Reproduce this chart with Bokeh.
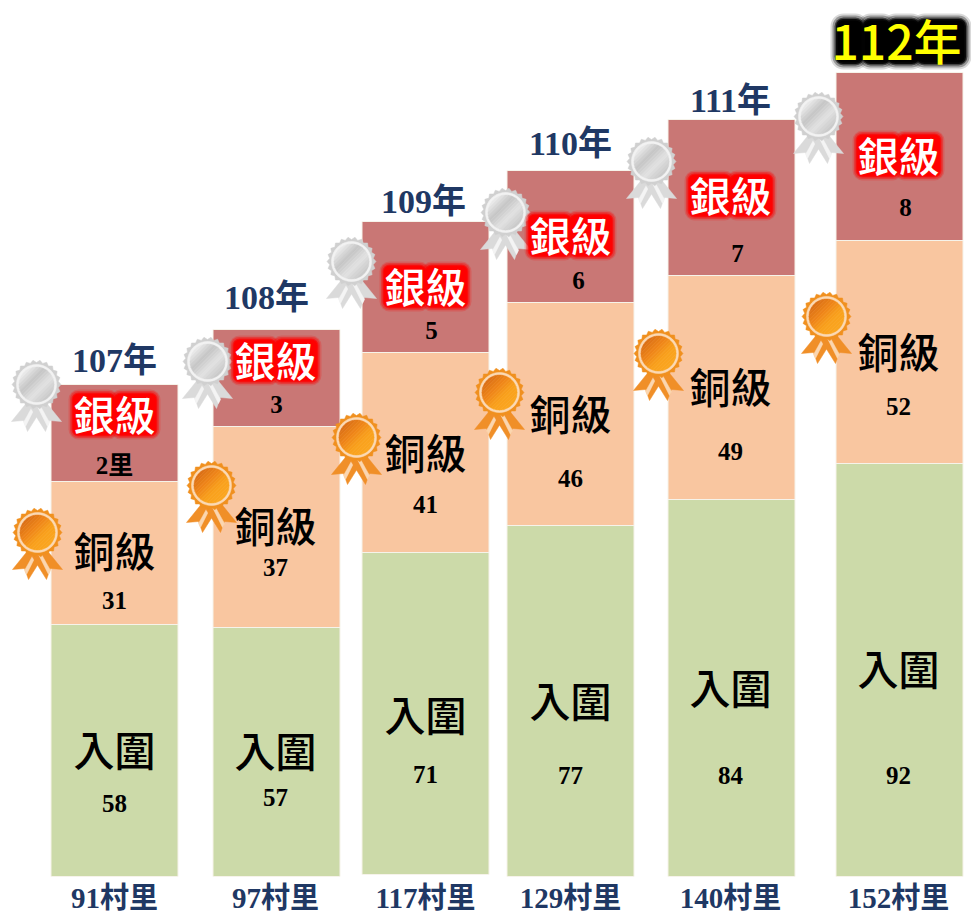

import numpy as np
from bokeh.plotting import figure
from bokeh.core.properties import value
from bokeh.models import ColumnDataSource, Range1d
from bokeh.embed import file_html
from bokeh.resources import INLINE

# ---- values printed on the chart
years = ["107年", "108年", "109年", "110年", "111年", "112年"]
totals = ["91村里", "97村里", "117村里", "129村里", "140村里", "152村里"]
silver_vals = ["2里", "3", "5", "6", "7", "8"]
bronze_vals = ["31", "37", "41", "46", "49", "52"]
entry_vals = ["58", "57", "71", "77", "84", "92"]
silver_name = "銀級"
bronze_name = "銅級"
entry_name = "入圍"

# ---- drawn segment heights (the original is not to scale)
entry_h = [252, 249, 322, 351, 377, 413]
bronze_h = [143, 201, 200, 223, 224, 223]
silver_h = [97, 97, 131, 132, 156, 168]

# ---- layout, in page pixels
BASE = 877
bar_left = [50.5, 212.5, 361.5, 506.5, 667.5, 835.5]
bar_w = 127
base_px = [877, 877, 875, 877, 877, 877]
cx_txt = [114, 275, 425, 570, 730, 898]
year_x = [114, 266, 423, 570, 730]
year_y = [361, 298, 202, 144, 101]
s_txt_y = [413, 359, 285, 234, 194, 154]
s_val_x = [114, 276, 431, 578, 737, 905]
s_val_y = [466, 405, 331, 281, 254, 208]
b_txt_y = [549, 524, 451, 412, 385, 350]
b_val_y = [601, 568, 505, 479, 452, 407]
e_txt_y = [748, 749, 713, 699, 686, 667]
e_val_y = [804, 798, 775, 776, 776, 776]
total_y = 898
silver_medal = [(36, 385), (207, 362), (351, 262), (505, 213), (651, 162), (818, 117)]
bronze_medal = [(37, 533), (211, 486), (356, 438), (499, 393), (658, 354), (826, 317)]

W, H = 971, 912
p = figure(width=W, height=H, output_backend="svg", toolbar_location=None,
           x_range=Range1d(0, W), y_range=Range1d(BASE - H - 1, BASE - 1),
           min_border=0)
p.axis.visible = False
p.grid.visible = False
p.outline_line_color = None
p.background_fill_color = "white"


def Y(v):
    return BASE - v


CJK = "Noto Sans CJK TC Medium, Noto Sans CJK TC"
SERIF = "Liberation Serif, Noto Sans CJK TC"

# ---- stacked bars
xc = [l + bar_w / 2 for l in bar_left]
b0 = [BASE - b for b in base_px]
b1 = [a + h for a, h in zip(b0, entry_h)]
b2 = [a + h for a, h in zip(b1, bronze_h)]
b3 = [a + h for a, h in zip(b2, silver_h)]
edge = "#F6F3EA"
p.vbar(x=xc, width=bar_w, bottom=b0, top=b1, fill_color="#CCDAA9", line_color=edge, line_width=1)
p.vbar(x=xc, width=bar_w, bottom=b1, top=b2, fill_color="#F9C6A0", line_color=edge, line_width=1)
p.vbar(x=xc, width=bar_w, bottom=b2, top=b3, fill_color="#C97775", line_color=edge, line_width=1)


def mix(c1, c2, t):
    a = [int(c1[i:i + 2], 16) for i in (1, 3, 5)]
    b = [int(c2[i:i + 2], 16) for i in (1, 3, 5)]
    return "#%02x%02x%02x" % tuple(int(round(x + (y - x) * t)) for x, y in zip(a, b))


def medal(cx, cy, rosette, ring, ribbon, stripe, stops):
    xs, ys, cols = [], [], []

    def add(px, py, c):
        xs.append([cx + q for q in px])
        ys.append([Y(cy + q) for q in py])
        cols.append(c)

    # ribbons
    for sgn in (-1, 1):
        add([sgn * q for q in (8, -6, 9, 13, 25)], [16, 23, 47, 36, 37], ribbon)
        add([sgn * q for q in (3, 1, 11, 13)], [20, 22, 42, 38], stripe)
    # scalloped outer edge
    n = 44
    ang = np.linspace(0, 2 * np.pi, n, endpoint=False)
    rad = np.where(np.arange(n) % 2 == 0, 24.5, 22)
    add(list(rad * np.cos(ang)), list(rad * np.sin(ang)), rosette)
    # light ring
    t = np.linspace(0, 2 * np.pi, 48)
    add(list(20 * np.cos(t)), list(20 * np.sin(t)), ring)
    # disc with a diagonal gradient, in bands
    R = 17.5
    edges = np.linspace(-R, R, 15)
    for k in range(14):
        t0, t1 = edges[k], edges[k + 1]
        p0, p1 = np.arccos(t0 / R), np.arccos(t1 / R)
        a = np.concatenate([np.linspace(p1, p0, 8), np.linspace(-p0, -p1, 8)])
        u, v = R * np.cos(a), R * np.sin(a)
        dx, dy = 0.707, 0.707
        px = u * dx - v * dy
        py = u * dy + v * dx
        f = k / 13 * (len(stops) - 1)
        i = min(int(f), len(stops) - 2)
        add(list(px), list(py), mix(stops[i], stops[i + 1], f - i))
    p.patches(xs, ys, fill_color=cols, line_color=cols, line_width=0.5)


for c in silver_medal:
    medal(c[0], c[1], "#D0D0D0", "#F2F2F2", "#DADADA", "#F4F4F4",
          ["#E8E8E8", "#C4C4C4", "#E2E2E2", "#CACACA"])
for c in bronze_medal:
    medal(c[0], c[1], "#F0901F", "#FBD9B4", "#F08F28", "#FBD6B0",
          ["#DC7016", "#EE8518", "#F9A01C", "#FAA51F"])


def glow(x, y, w, h, colour, layers, radius):
    for grow, alpha in layers:
        p.rect(x=[x], y=[Y(y)], width=w + grow, height=h + grow, fill_color=colour,
               fill_alpha=alpha, line_color=None, border_radius=int(radius + grow // 2))


def txt(x, y, s, size, colour="black", font=CJK, style="normal"):
    src = ColumnDataSource(dict(x=list(x), y=[Y(v) for v in y], t=list(s)))
    p.text("x", "y", "t", source=src, text_font=value(font), text_font_size=f"{size}px",
           text_color=colour, text_font_style=style, text_align="center", text_baseline="middle")


red_soft = [(10, 0.2), (7, 0.35), (4, 0.6), (2, 0.85), (0, 1)]
for x, y in zip(cx_txt, s_txt_y):
    glow(x - 21, y + 2, 40, 40, "#FF0000", red_soft, 5)
    glow(x + 21, y + 2, 40, 40, "#FF0000", red_soft, 5)

black_soft = [(14, 0.15), (10, 0.3), (6, 0.55), (3, 0.85), (0, 1)]
# one blob behind each glyph of the highlighted year
for off, w in ((-47, 24), (-20, 24), (7, 28), (45, 46)):
    glow(896 + off, 42, w, 42, "#000000", black_soft, 6)

txt(cx_txt, s_txt_y, [silver_name] * 6, 41, "white")
txt(cx_txt, b_txt_y, [bronze_name] * 6, 41)
txt(cx_txt, e_txt_y, [entry_name] * 6, 41)
txt(s_val_x, s_val_y, silver_vals, 25, font=SERIF, style="bold")
txt(cx_txt, b_val_y, bronze_vals, 25, font=SERIF, style="bold")
txt(cx_txt, e_val_y, entry_vals, 25, font=SERIF, style="bold")
txt(year_x, year_y, years[:5], 34, "#1F3864", font=SERIF, style="bold")
txt([896], [39], years[5:], 48, "#FFFF00", style="bold")
txt(cx_txt, [total_y] * 6, totals, 29, "#1F3864", font=SERIF, style="bold")

open("out.html", "w").write(file_html(p, INLINE))
